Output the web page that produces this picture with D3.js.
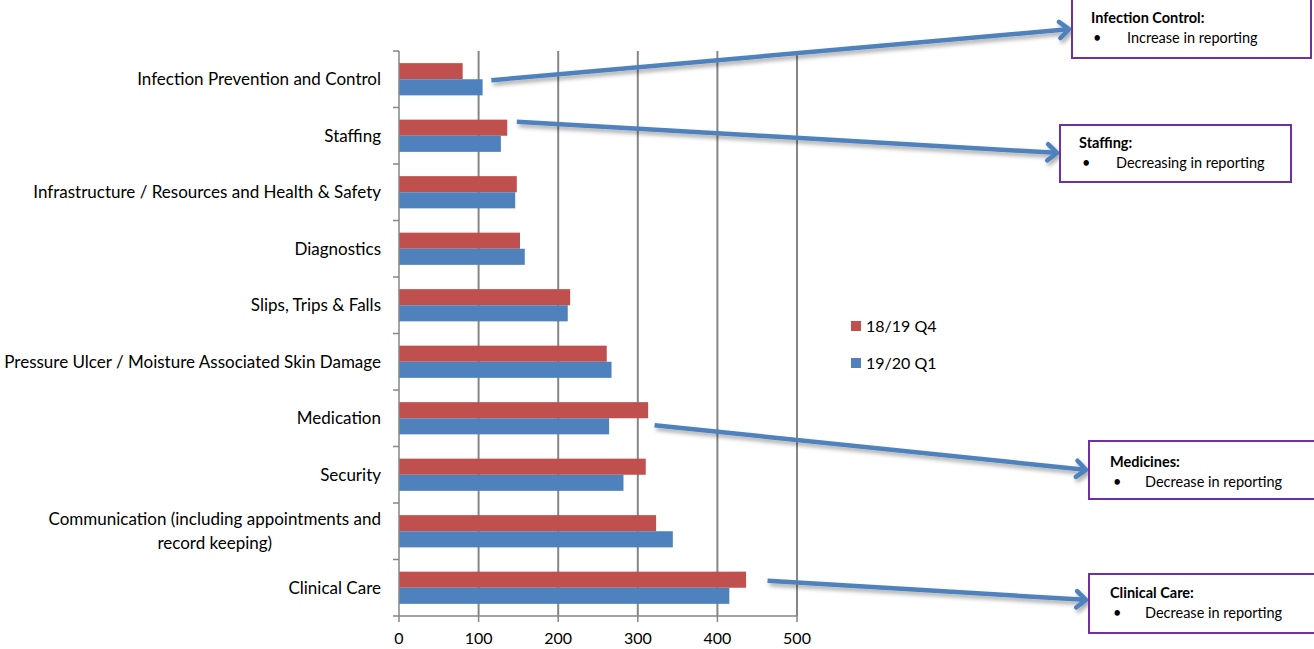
<!DOCTYPE html>
<html>
<head>
<meta charset="utf-8">
<script src="https://cdn.jsdelivr.net/npm/d3@7"></script>
<style>
  html, body { margin: 0; padding: 0; background: #fff; }
  svg { display: block; }
  text { font-family: Lato, "Open Sans", sans-serif; fill: #000; }
</style>
</head>
<body>
<svg id="chart" width="1314" height="649"></svg>
<script>
// Incident categories, top to bottom
const categories = [
  "Infection Prevention and Control",
  "Staffing",
  "Infrastructure / Resources and Health & Safety",
  "Diagnostics",
  "Slips, Trips & Falls",
  "Pressure Ulcer / Moisture Associated Skin Damage",
  "Medication",
  "Security",
  "Communication (including appointments and record keeping)",
  "Clinical Care"
];
const seriesNames = ["18/19 Q4", "19/20 Q1"];
const q4_1819 = [80, 136, 148, 152, 215, 261, 313, 310, 323, 436];
const q1_1920 = [105, 128, 146, 158, 212, 267, 264, 282, 344, 415];
const xTicks = [0, 100, 200, 300, 400, 500];

// Callout notes
const noteTitles = ["Infection Control:", "Staffing:", "Medicines:", "Clinical Care:"];
const noteTexts = ["Increase in reporting", "Decreasing in reporting", "Decrease in reporting", "Decrease in reporting"];
const noteCategories = ["Infection Prevention and Control", "Staffing", "Medication", "Clinical Care"];

const colors = ["#C0504D", "#4F81BD"];
const svg = d3.select("#chart");

const plot = { left: 399, right: 797, top: 51, bottom: 616 };
const x = d3.scaleLinear().domain([0, 500]).range([plot.left, plot.right]);
const y = d3.scaleBand().domain(categories).range([plot.top, plot.bottom]).paddingInner(0.43).paddingOuter(0.215);
const ySub = d3.scaleBand().domain(seriesNames).range([0, y.bandwidth()]);
const bandStep = y.step();

const defs = svg.append("defs");
const shadow = defs.append("filter").attr("id", "shadow")
  .attr("x", "-10%").attr("y", "-50%").attr("width", "130%").attr("height", "300%");
shadow.append("feDropShadow").attr("dx", 2).attr("dy", 3).attr("stdDeviation", 2)
  .attr("flood-color", "#000").attr("flood-opacity", 0.35);

// Vertical gridlines
svg.append("g").selectAll("line").data(xTicks.slice(1)).join("line")
  .attr("x1", d => x(d)).attr("x2", d => x(d))
  .attr("y1", plot.top).attr("y2", plot.bottom)
  .attr("stroke", "#868686").attr("stroke-width", 2);

// Bars
const rows = categories.map((c, i) => ({ cat: c, vals: [q4_1819[i], q1_1920[i]] }));
const groups = svg.append("g").selectAll("g").data(rows).join("g")
  .attr("transform", d => `translate(0,${y(d.cat)})`);
groups.selectAll("rect").data(d => d.vals.map((v, k) => ({ v, k }))).join("rect")
  .attr("x", x(0))
  .attr("y", d => ySub(seriesNames[d.k]))
  .attr("width", d => x(d.v) - x(0))
  .attr("height", ySub.bandwidth())
  .attr("fill", d => colors[d.k]);

// Category axis (ticks at band boundaries)
const yAxisG = svg.append("g");
yAxisG.append("line").attr("x1", plot.left).attr("x2", plot.left)
  .attr("y1", plot.top).attr("y2", plot.bottom).attr("stroke", "#868686").attr("stroke-width", 1.5);
yAxisG.selectAll("line.tk").data(d3.range(categories.length + 1)).join("line").attr("class", "tk")
  .attr("x1", plot.left - 6).attr("x2", plot.left)
  .attr("y1", i => plot.top + i * bandStep).attr("y2", i => plot.top + i * bandStep)
  .attr("stroke", "#868686").attr("stroke-width", 1.5);

// Category labels, wrapping long names to two centred lines
const labelSize = "17px";
const wrapAt = { "Communication (including appointments and record keeping)": ["Communication (including appointments and", "record keeping)"] };
categories.forEach(c => {
  const cy = y(c) + y.bandwidth() / 2;
  const lines = wrapAt[c];
  if (!lines) {
    svg.append("text").attr("x", plot.left - 18).attr("y", cy).attr("dy", "0.35em")
      .attr("text-anchor", "end").style("font-size", labelSize).text(c);
  } else {
    const t1 = svg.append("text").attr("x", plot.left - 18).attr("y", cy - 12).attr("dy", "0.35em")
      .attr("text-anchor", "end").style("font-size", labelSize).text(lines[0]);
    const w = t1.node().getComputedTextLength();
    svg.append("text").attr("x", plot.left - 18 - w / 2).attr("y", cy + 12).attr("dy", "0.35em")
      .attr("text-anchor", "middle").style("font-size", labelSize).text(lines[1]);
  }
});

// Value axis
const xAxisG = svg.append("g");
xAxisG.append("line").attr("x1", plot.left).attr("x2", plot.right)
  .attr("y1", plot.bottom).attr("y2", plot.bottom).attr("stroke", "#868686").attr("stroke-width", 1.5);
xAxisG.selectAll("line.tk").data(xTicks).join("line").attr("class", "tk")
  .attr("x1", d => x(d)).attr("x2", d => x(d))
  .attr("y1", plot.bottom).attr("y2", plot.bottom + 6)
  .attr("stroke", "#868686").attr("stroke-width", 1.5);
xAxisG.selectAll("text").data(xTicks).join("text")
  .attr("x", d => x(d)).attr("y", plot.bottom + 22).attr("dy", "0.35em")
  .attr("text-anchor", "middle").style("font-size", "16px").text(d => d);

// Legend
const legend = svg.append("g").attr("transform", "translate(851,326)");
seriesNames.forEach((s, k) => {
  const g = legend.append("g").attr("transform", `translate(0,${k * 37})`);
  g.append("rect").attr("x", 0).attr("y", -5).attr("width", 10).attr("height", 10).attr("fill", colors[k]);
  g.append("text").attr("x", 15).attr("y", 0).attr("dy", "0.35em").style("font-size", "16px").text(s);
});

// Callout boxes
const boxes = [
  { x: 1072, y: -1, w: 239, h: 59, tx: 1091, ty: 23, bx: 1093, lx: 1127 },
  { x: 1060, y: 125, w: 231, h: 57, tx: 1079, ty: 148, bx: 1082, lx: 1116 },
  { x: 1089, y: 441, w: 230, h: 58, tx: 1110, ty: 467, bx: 1113, lx: 1145 },
  { x: 1089, y: 574, w: 230, h: 59, tx: 1110, ty: 598, bx: 1113, lx: 1145 }
];
// Arrow starts in data units next to each category's bars; arrow tips at the boxes
const arrowStart = [
  { v: 116, dy: 1 },
  { v: 148, dy: -14 },
  { v: 321, dy: 7 },
  { v: 463, dy: -7 }
];
const arrowTip = [[1071, 29], [1059, 153], [1088, 470], [1088, 600]];

const arrowG = svg.append("g").attr("filter", "url(#shadow)");
noteCategories.forEach((c, i) => {
  const sx = x(arrowStart[i].v);
  const sy = y(c) + y.bandwidth() / 2 + arrowStart[i].dy;
  const [ex, ey] = arrowTip[i];
  const ang = Math.atan2(ey - sy, ex - sx);
  const head = 14, spread = 0.62;
  arrowG.append("line").attr("x1", sx).attr("y1", sy).attr("x2", ex - 3 * Math.cos(ang)).attr("y2", ey - 3 * Math.sin(ang))
    .attr("stroke", "#4F81BD").attr("stroke-width", 4.5);
  const p1 = [ex - head * Math.cos(ang - spread), ey - head * Math.sin(ang - spread)];
  const p2 = [ex - head * Math.cos(ang + spread), ey - head * Math.sin(ang + spread)];
  arrowG.append("path").attr("d", `M${p1}L${ex - 2 * Math.cos(ang)},${ey - 2 * Math.sin(ang)}L${p2}`)
    .attr("fill", "none").attr("stroke", "#4F81BD").attr("stroke-width", 4.5)
    .attr("stroke-linecap", "round").attr("stroke-linejoin", "round");
});

const noteSize = "14.5px";
boxes.forEach((b, i) => {
  svg.append("rect").attr("x", b.x).attr("y", b.y).attr("width", b.w).attr("height", b.h)
    .attr("fill", "#fff").attr("stroke", "#7030A0").attr("stroke-width", 2);
  svg.append("text").attr("x", b.tx).attr("y", b.ty).style("font-size", noteSize).style("font-weight", "bold").text(noteTitles[i]);
  svg.append("text").attr("x", b.bx).attr("y", b.ty + 20).style("font-size", noteSize).text("\u2022");
  svg.append("text").attr("x", b.lx).attr("y", b.ty + 20).style("font-size", noteSize).text(noteTexts[i]);
});
</script>
</body>
</html>
